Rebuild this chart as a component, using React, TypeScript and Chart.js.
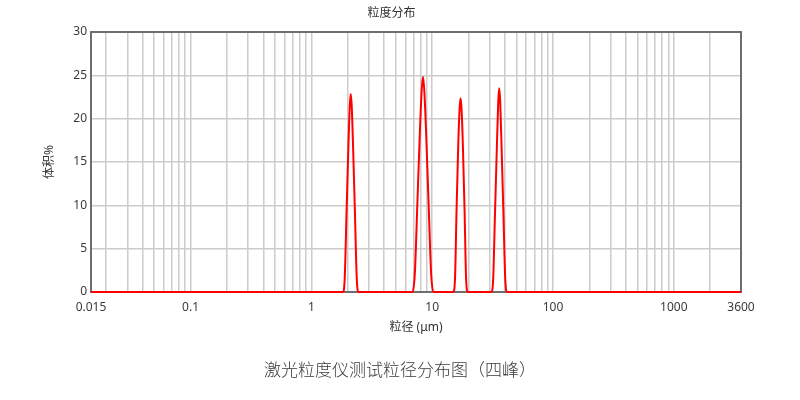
import React, { useEffect, useRef } from 'react';
import { Chart, registerables } from 'chart.js';

Chart.register(...registerables);

// ---- data (particle size in µm, volume %) ----
const sizes = [
  0.015,
  1.824, 1.888, 1.954, 2.023, 2.08, 2.118, 2.158, 2.218, 2.296, 2.377, 2.46,
  6.855, 7.178, 7.534, 7.889, 8.185, 8.395, 8.61, 8.933, 9.354, 9.817, 10.28,
  14.96, 15.45, 15.92, 16.44, 16.87, 17.18, 17.5, 17.95, 18.54, 19.1, 19.72,
  30.9, 31.99, 33.11, 34.28, 35.24, 35.89, 36.56, 37.58, 38.9, 40.27, 41.69,
  3600,
];
const volumes = [
  0,
  0, 1.5, 9, 16.5, 21.5, 22.85, 21.5, 16.5, 9, 1.5, 0,
  0, 2, 10, 18, 23.2, 24.85, 23.2, 18, 10, 2, 0,
  0, 1.5, 9.5, 17, 21.2, 22.35, 21.2, 17, 9.5, 1.5, 0,
  0, 1.5, 9, 16.5, 22, 23.5, 22, 16.5, 9, 1.5, 0,
  0,
];

const xTickValues = [
  0.015, 0.02, 0.03, 0.04, 0.05, 0.06, 0.07, 0.08, 0.09,
  0.1, 0.2, 0.3, 0.4, 0.5, 0.6, 0.7, 0.8, 0.9,
  1, 2, 3, 4, 5, 6, 7, 8, 9,
  10, 20, 30, 40, 50, 60, 70, 80, 90,
  100, 200, 300, 400, 500, 600, 700, 800, 900,
  1000, 2000, 3600,
];
const xLabeledValues = [0.015, 0.1, 1, 10, 100, 1000, 3600];
const xLabelTexts = ['0.015', '0.1', '1', '10', '100', '1000', '3600'];

const yMin = 0;
const yMax = 30;
const yStep = 5;

const chartTitle = '粒度分布';
const xTitle = '粒径 (μm)';
const yTitle = '体积%';
const caption = '激光粒度仪测试粒径分布图（四峰）';

const FONT = "'Noto Sans', 'Noto Sans CJK SC', sans-serif";

const framePlugin = {
  id: 'frame',
  beforeDatasetsDraw(chart: any) {
    const { ctx, chartArea } = chart;
    const { left, top, right, bottom } = chartArea;
    ctx.save();
    ctx.strokeStyle = '#6e6e6e';
    ctx.lineWidth = 2;
    ctx.strokeRect(left, top, right - left, bottom - top);
    ctx.restore();
  },
};

export default function App() {
  const canvasRef = useRef<HTMLCanvasElement | null>(null);

  useEffect(() => {
    if (!canvasRef.current) return;
    const data = sizes.map((x, i) => ({ x, y: volumes[i] }));
    const chart = new Chart(canvasRef.current, {
      type: 'line',
      data: {
        datasets: [
          {
            data,
            borderColor: '#ff0000',
            borderWidth: 2,
            pointRadius: 0,
            fill: false,
            cubicInterpolationMode: 'monotone',
            clip: 2,
          } as any,
        ],
      },
      plugins: [framePlugin],
      options: {
        animation: false,
        responsive: false,
        devicePixelRatio: 1,
        layout: { padding: { left: 42, right: 59, top: 0, bottom: 65 } },
        plugins: {
          legend: { display: false },
          tooltip: { enabled: false },
          title: {
            display: true,
            text: chartTitle,
            color: '#333333',
            font: { family: FONT, size: 12, weight: 'normal' },
            padding: { top: 6, bottom: 11.6 },
          },
        },
        scales: {
          x: {
            type: 'logarithmic',
            min: 0.015,
            max: 3600,
            afterBuildTicks: (scale: any) => {
              scale.ticks = xTickValues.map((v) => ({ value: v }));
            },
            afterFit: (scale: any) => {
              scale.height = 43;
            },
            ticks: {
              autoSkip: false,
              maxRotation: 0,
              minRotation: 0,
              padding: 8,
              color: '#3a3a3a',
              font: { family: FONT, size: 12 },
              callback: (value: any) => {
                const v = Number(value);
                const idx = xLabeledValues.findIndex((t) => Math.abs(t - v) / t < 1e-6);
                return idx >= 0 ? xLabelTexts[idx] : '';
              },
            },
            grid: { color: '#cccccc', lineWidth: 1.5, drawTicks: false },
            border: { display: false },
            title: {
              display: true,
              text: xTitle,
              color: '#333333',
              font: { family: FONT, size: 12 },
              padding: 0,
            },
          } as any,
          y: {
            type: 'linear',
            min: yMin,
            max: yMax,
            afterFit: (scale: any) => {
              scale.width = 49;
            },
            ticks: {
              stepSize: yStep,
              padding: 4,
              color: '#3a3a3a',
              font: { family: FONT, size: 12 },
            },
            grid: { color: '#cccccc', lineWidth: 1.5, drawTicks: false },
            border: { display: false },
            title: {
              display: true,
              text: yTitle,
              color: '#333333',
              font: { family: FONT, size: 12 },
              padding: 0,
            },
          } as any,
        },
      },
    });
    return () => chart.destroy();
  }, []);

  return (
    <div style={{ position: 'absolute', left: 0, top: 0, width: 800, height: 400, background: '#ffffff' }}>
      <canvas ref={canvasRef} width={800} height={400} style={{ display: 'block', width: 800, height: 400 }} />
      <div
        style={{
          position: 'absolute',
          left: 0,
          top: 359,
          width: 800,
          textAlign: 'center',
          fontFamily: "'Liberation Serif', 'Noto Sans CJK SC', serif",
          fontSize: 17,
          fontWeight: 300,
          lineHeight: '24px',
          color: '#3a3a3a',
        }}
      >
        {caption}
      </div>
    </div>
  );
}
